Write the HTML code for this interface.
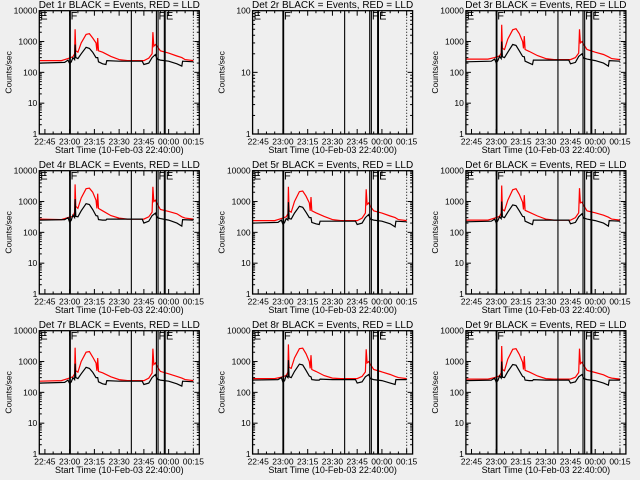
<!DOCTYPE html>
<html><head><meta charset="utf-8"><style>
html,body{margin:0;padding:0;background:#efefef;}
svg{display:block;font-family:"Liberation Sans",sans-serif;}
</style></head><body>
<svg id="c" width="640" height="480" viewBox="0 0 640 480" xmlns="http://www.w3.org/2000/svg"></svg>
<script>
// time in minutes after 22:40:00
const redTimes=[1.5,15,19,22,23,23.3,23.7,25,27,30,32,34,36,36.5,37,37.5,40,45,50,55,65,68,70,70.5,71,72,73,75,80,85,88,90,95];
const blackTimes=[1.5,17,19,20,21,22,23,23.3,23.7,25,27,30,32,34,36,37,37.5,40,42,42.5,50,64,65,68,70,72,73,75,80,85,88,88.5,95];
const red1=[240,240,280,320,400,2500,500,450,900,1700,1800,1300,900,500,1300,500,450,330,260,240,240,290,400,2000,700,800,700,500,420,340,300,260,240];
const red3=[270,270,300,340,420,3500,600,550,1200,2400,2600,1800,1000,600,1500,550,480,350,280,260,260,300,420,2500,900,1000,800,550,450,380,320,280,260];
const red4=[270,260,300,330,450,3600,700,600,1300,2600,2700,2000,1100,600,1800,600,500,350,290,270,270,320,450,3000,1000,1100,850,550,480,400,320,290,270];
const red5=[240,240,280,320,400,3000,500,450,1000,2100,2200,1500,900,500,1400,500,430,330,260,240,240,290,420,2500,800,900,700,500,420,340,300,260,240];
const red6=[250,250,290,330,420,3300,550,500,1100,2400,2600,1700,950,550,1600,520,450,340,270,250,250,300,430,2700,900,950,750,500,430,360,310,270,250];
const red7=[230,240,280,320,400,2800,500,450,1000,2000,2100,1400,900,500,1300,480,430,320,260,240,240,290,420,2600,800,900,700,480,400,330,290,260,240];
const red8=[280,280,310,350,450,3600,650,600,1300,2600,2700,1800,1000,600,1600,550,480,350,290,280,280,330,460,2500,900,1000,800,550,460,380,330,300,280];
const red9=[270,270,300,340,430,3200,550,500,1200,2500,2600,1700,950,550,1500,520,460,340,280,270,270,310,440,2600,850,950,750,520,440,370,310,290,270];
const black1=[200,210,250,190,220,300,260,800,300,280,400,650,600,450,300,300,220,190,180,240,230,230,180,200,300,380,270,250,230,190,160,230,220];
const black3=[220,230,270,200,240,330,280,1000,320,300,450,800,750,500,330,320,230,200,180,250,250,250,190,210,330,400,290,270,240,200,160,240,230];
const black4=[250,260,300,210,250,360,300,1200,330,320,500,850,800,550,350,340,260,250,250,270,270,270,200,230,350,420,300,280,250,200,160,260,250];
const black5=[200,210,250,180,210,280,250,950,280,270,420,700,650,450,300,300,210,190,180,230,230,230,180,200,300,380,270,250,230,190,150,230,220];
const black6=[220,230,270,200,240,320,280,1000,320,300,450,780,730,500,330,320,230,200,180,250,250,250,190,210,320,400,290,270,240,200,160,240,230];
const black7=[200,210,250,190,220,300,260,850,300,280,400,650,600,450,300,300,220,190,180,240,230,230,180,200,300,380,270,250,230,190,160,230,220];
const black8=[250,260,300,210,240,350,300,1100,320,300,480,820,780,520,340,320,260,250,250,270,260,260,200,220,320,380,280,260,240,200,180,260,260];
const black9=[240,250,290,210,240,340,290,1000,310,300,470,800,760,500,330,310,250,240,240,260,250,250,200,220,320,380,280,260,240,200,170,250,250];
const redSeries=[red1,null,red3,red4,red5,red6,red7,red8,red9];
const blackSeries=[black1,null,black3,black4,black5,black6,black7,black8,black9];
const tickLabels=["22:45","23:00","23:15","23:30","23:45","00:00","00:15"];
const tickTimes=[5,20,35,50,65,80,95];
const flagTimes=[20.2,57.4,72.6,73.6,77.4,77.9];
const flagLetters=["E","F","F","E"];
const flagLetterTimes=[2.2,20.6,73.9,78.3];

const NS="http://www.w3.org/2000/svg";
const svg=document.getElementById('c');
function el(tag,attrs,parent){const e=document.createElementNS(NS,tag);for(const k in attrs)e.setAttribute(k,attrs[k]);(parent||svg).appendChild(e);return e;}

const T0=1.6,T1=98.6,W=160,H=123.3;
for(let i=0;i<9;i++){
  const col=i%3,row=Math.floor(i/3);
  const L=39.3+213.3*col,Tp=10.7+160*row,B=Tp+H,R=L+W;
  const g=el('g',{});
  
  
  const empty=(i===1);
  const ymin=0,ymax=empty?2:4;
  const xs=t=>L+(t-T0)/(T1-T0)*W;
  const ys=v=>B-(Math.log10(v)-ymin)/(ymax-ymin)*H;
  const tt=el('text',{x:L+W/2,y:Tp-2.5,'font-size':'10','text-anchor':'middle',fill:'#000'},g);
  tt.textContent='Det '+(i+1)+'r BLACK = Events, RED = LLD';
  
  
  const yl=el('text',{x:0,y:0,'font-size':'8.5','text-anchor':'middle',transform:`translate(${L-28},${Tp+H/2}) rotate(-90)`},g);
  yl.textContent='Counts/sec';
  
  
  const xl=el('text',{x:L+W/2,y:B+19,'font-size':'9','text-anchor':'middle'},g);
  xl.textContent='Start Time (10-Feb-03 22:40:00)';
  
  
  const cp=el('clipPath',{id:'cp'+i},g);
  el('rect',{x:L,y:Tp,width:W,height:H},cp);
  if(!empty){
    [[redSeries[i],redTimes,'#ff0000','red-lld-line'],[blackSeries[i],blackTimes,'#000','black-events-line']].forEach(([vals,ts,c,n])=>{
      const d=ts.map((t,k)=>(k?'L':'M')+xs(t).toFixed(1)+' '+ys(vals[k]).toFixed(1)).join(' ');
      const p=el('path',{d:d,fill:'none',stroke:c,'stroke-width':'1.2','clip-path':`url(#cp${i})`},g);
      
      
    });
  }
  flagTimes.forEach(t=>{
    const ln=el('line',{x1:xs(t),x2:xs(t),y1:Tp,y2:B,stroke:'#000','stroke-width':(t===20.2?1.8:1.1)},g);
    
    
  });
  const dl=el('line',{x1:xs(95),x2:xs(95),y1:Tp,y2:B,stroke:'#000','stroke-width':1,'stroke-dasharray':'1,2'},g);
  
  
  flagLetters.forEach((s,k)=>{
    const tx=el('text',{x:xs(flagLetterTimes[k]),y:Tp+9,'font-size':'11',fill:'#000'},g);
    tx.textContent=s;
    
    
  });
  el('rect',{x:L,y:Tp,width:W,height:H,fill:'none',stroke:'#000','stroke-width':1.3},g);
  for(let m=5;m<=95;m+=5){
    const major=(m%15===5);const len=major?5:2.5;
    el('line',{x1:xs(m),x2:xs(m),y1:B,y2:B-len,stroke:'#000'},g);
    el('line',{x1:xs(m),x2:xs(m),y1:Tp,y2:Tp+len,stroke:'#000'},g);
  }
  tickTimes.forEach((t,k)=>{
    const tl=el('text',{x:xs(t),y:B+10.5,'font-size':'8.5','text-anchor':'middle'},g);
    tl.textContent=tickLabels[k];
    
    
  });
  for(let d=ymin;d<=ymax;d++){
    const y=ys(Math.pow(10,d));
    el('line',{x1:L,x2:L+5,y1:y,y2:y,stroke:'#000'},g);
    el('line',{x1:R,x2:R-5,y1:y,y2:y,stroke:'#000'},g);
    const lb=el('text',{x:L-2,y:y+3,'font-size':'8.5','text-anchor':'end'},g);
    lb.textContent=String(Math.pow(10,d));
    
    
    if(d<ymax)for(let m=2;m<=9;m++){
      const yy=ys(m*Math.pow(10,d));
      el('line',{x1:L,x2:L+2.5,y1:yy,y2:yy,stroke:'#000'},g);
      el('line',{x1:R,x2:R-2.5,y1:yy,y2:yy,stroke:'#000'},g);
    }
  }
}
</script>
</body></html>
